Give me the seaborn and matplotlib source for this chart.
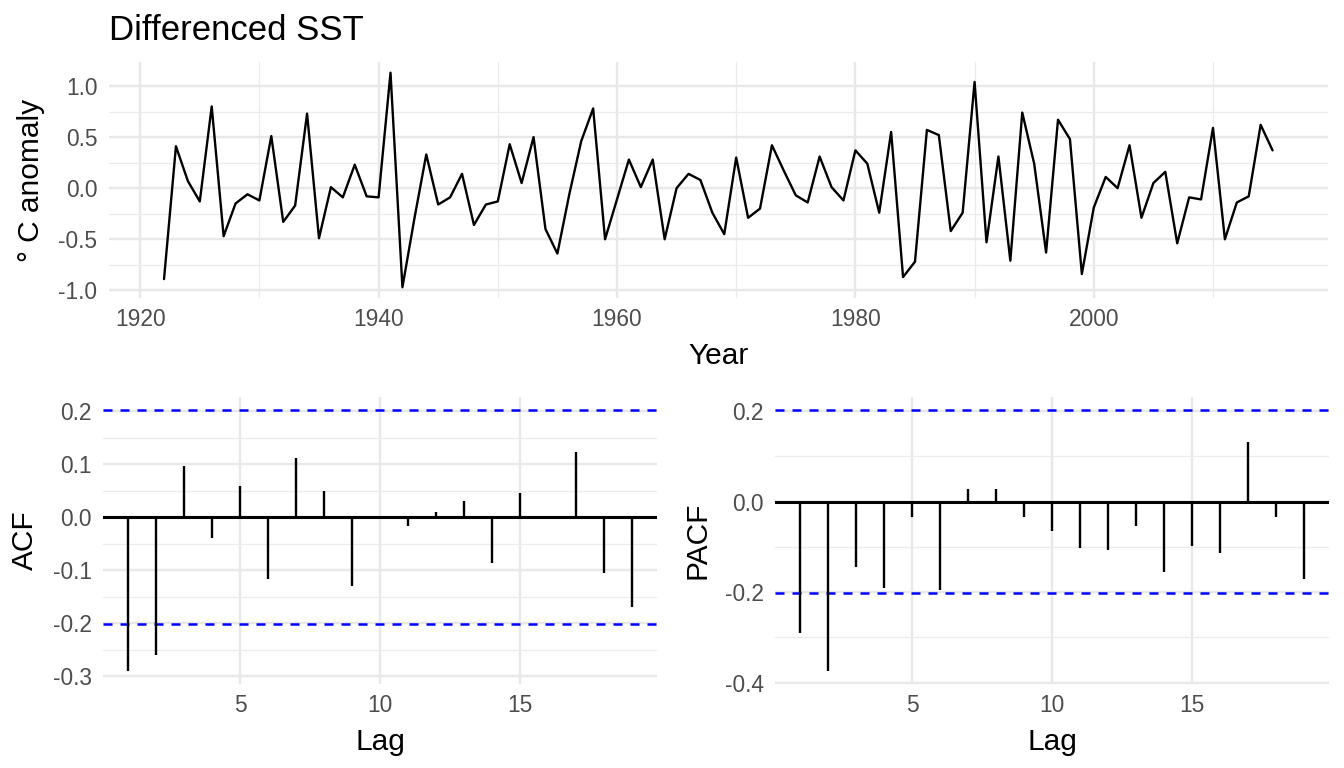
import numpy as np
import pandas as pd
import matplotlib.pyplot as plt
import matplotlib.ticker as mticker
import seaborn as sns

# ==========================================
# 数据
# ==========================================
years = list(range(1922, 2016))
dsst = [-0.89, 0.41, 0.07, -0.13, 0.80, -0.47, -0.15, -0.06, -0.12, 0.51,
        -0.33, -0.17, 0.73, -0.49, 0.01, -0.09, 0.23, -0.08, -0.09, 1.13,
        -0.97, -0.30, 0.33, -0.16, -0.09, 0.14, -0.36, -0.16, -0.13, 0.43,
        0.05, 0.50, -0.40, -0.64, -0.06, 0.46, 0.78, -0.50, -0.11, 0.28,
        0.01, 0.28, -0.50, 0.00, 0.14, 0.08, -0.24, -0.45, 0.30, -0.29,
        -0.20, 0.42, 0.17, -0.07, -0.14, 0.31, 0.01, -0.12, 0.37, 0.24,
        -0.24, 0.55, -0.87, -0.72, 0.57, 0.52, -0.42, -0.24, 1.04, -0.53,
        0.31, -0.71, 0.74, 0.24, -0.63, 0.67, 0.48, -0.84, -0.19, 0.11,
        0.00, 0.42, -0.29, 0.05, 0.16, -0.54, -0.09, -0.11, 0.59, -0.50,
        -0.14, -0.08, 0.62, 0.37]

lags = list(range(1, 20))
acf_vals = [-0.290, -0.260, 0.096, -0.040, 0.058, -0.116, 0.111, 0.050, -0.129, -0.001,
            -0.017, 0.009, 0.031, -0.086, 0.045, 0.003, 0.122, -0.105, -0.169]
pacf_vals = [-0.290, -0.374, -0.145, -0.192, -0.033, -0.195, 0.027, 0.027, -0.035, -0.065,
             -0.102, -0.107, -0.053, -0.155, -0.098, -0.113, 0.131, -0.033, -0.172]
ci_bound = 0.202

df_ts = pd.DataFrame({'Year': years, 'dSST': dsst})

# ==========================================
# 样式
# ==========================================
sns.set_theme(style="whitegrid")
plt.rcParams['font.family'] = ['Liberation Sans', 'DejaVu Sans']
plt.rcParams['axes.unicode_minus'] = False

W, H = 1344, 768
fig = plt.figure(figsize=(W / 100, H / 100), dpi=100)
fig.patch.set_facecolor('white')


def px_axes(l, t, r, b):
    return fig.add_axes([l / W, 1 - b / H, (r - l) / W, (b - t) / H])


def style(ax, xmaj, xmin, ymaj, ymin):
    ax.set_facecolor('white')
    for s in ax.spines.values():
        s.set_visible(False)
    ax.xaxis.set_major_locator(mticker.MultipleLocator(xmaj))
    if xmin:
        ax.xaxis.set_minor_locator(mticker.MultipleLocator(xmin))
    ax.yaxis.set_major_locator(mticker.MultipleLocator(ymaj))
    ax.yaxis.set_minor_locator(mticker.MultipleLocator(ymin))
    ax.yaxis.set_major_formatter(mticker.FormatStrFormatter('%.1f'))
    ax.grid(which='major', color='#E8E8E8', linewidth=1.7)
    ax.grid(which='minor', axis='both' if xmin else 'y', color='#EBEBEB', linewidth=0.9)
    if not xmin:
        ax.grid(which='minor', axis='x', visible=False)
    ax.tick_params(which='both', length=0, labelsize=16.4, labelcolor='#4D4D4D')
    ax.tick_params(axis='x', pad=7)
    ax.tick_params(axis='y', pad=8)
    ax.set_axisbelow(True)


# ==========================================
# 上图：差分 SST 时间序列
# ==========================================
ax_ts = px_axes(108.6, 62, 1328, 298)
sns.lineplot(data=df_ts, x='Year', y='dSST', color='black', linewidth=1.7, ax=ax_ts)
ax_ts.set_xlim(1917.35, 2019.65)
ax_ts.set_ylim(-1.075, 1.235)
style(ax_ts, 20, 10, 0.5, 0.25)
ax_ts.xaxis.set_major_formatter(mticker.FormatStrFormatter('%d'))
ax_ts.set_title('Differenced SST', loc='left', fontsize=25, pad=16, color='black')
ax_ts.set_xlabel('Year', fontsize=21.5, labelpad=8, color='black')
ax_ts.set_ylabel('° C anomaly', fontsize=21.5, labelpad=10, color='black')

# ==========================================
# 下图：ACF 与 PACF
# ==========================================
ax_acf = px_axes(103, 397, 657, 684)
ax_pacf = px_axes(775, 397, 1329, 684)

for ax, vals, lab, ylim in [(ax_acf, acf_vals, 'ACF', (-0.3146, 0.2266)),
                            (ax_pacf, pacf_vals, 'PACF', (-0.403, 0.231))]:
    ax.axhline(0, color='black', linewidth=2.2, zorder=2)
    ax.vlines(lags, 0, vals, color='black', linewidth=1.7, zorder=3)
    for b in (ci_bound, -ci_bound):
        ax.axhline(b, color='blue', linewidth=1.8, linestyle=(0, (3.6, 3.2)), zorder=2)
    ax.set_xlim(0.1, 19.9)
    ax.set_ylim(*ylim)
    style(ax, 5, None, 0.1 if lab == 'ACF' else 0.2, 0.05 if lab == 'ACF' else 0.1)
    ax.xaxis.set_major_formatter(mticker.FormatStrFormatter('%d'))
    ax.set_xlabel('Lag', fontsize=21.5, labelpad=8, color='black')
    ax.set_ylabel(lab, fontsize=21.5, labelpad=10, color='black')

# 只保留 5、10、15 刻度
for ax in (ax_acf, ax_pacf):
    ax.set_xticks([5, 10, 15])

fig.savefig('out.png', dpi=100, facecolor='white')
